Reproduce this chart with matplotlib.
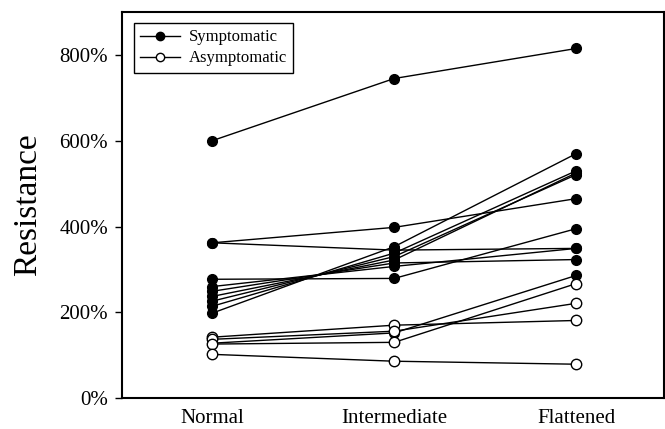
import matplotlib

matplotlib.use("Agg")
import matplotlib.pyplot as plt
from matplotlib.lines import Line2D

plt.rcParams.update({"font.family": ["Liberation Serif", "DejaVu Serif"]})

stages = ["Normal", "Intermediate", "Flattened"]

# resistance (%) per subject at each stage
symptomatic = [
    [600, 745, 815],
    [362, 398, 465],
    [362, 345, 349],
    [277, 279, 395],
    [260, 307, 349],
    [249, 315, 323],
    [237, 322, 525],
    [226, 330, 521],
    [214, 338, 530],
    [198, 353, 570],
    [128, 152, 286],
]
asymptomatic = [
    [142, 170, 181],
    [137, 156, 221],
    [126, 130, 267],
    [102, 86, 79],
]
yticks = [0, 200, 400, 600, 800]

fig = plt.figure(figsize=(6.65, 4.29), dpi=100)
ax = fig.add_axes([0.1835, 0.072, 0.8145, 0.9])

x = list(range(len(stages)))
for s in symptomatic:
    ax.plot(x, s, "-", color="black", lw=1.0, marker="o", ms=7,
            mfc="black", mec="black", zorder=2)
for s in asymptomatic:
    ax.plot(x, s, "-", color="black", lw=1.0, marker="o", ms=7.5,
            mfc="white", mec="black", mew=1.0, zorder=3)

ax.set_xlim(-0.495, 2.48)
ax.set_ylim(0, 900)
ax.set_xticks(x)
ax.set_xticklabels(stages, fontsize=15)
ax.set_yticks(yticks)
ax.set_yticklabels([f"{v}%" for v in yticks], fontsize=15)
ax.tick_params(axis="x", length=0, pad=8)
ax.tick_params(axis="y", length=5, width=1.0, direction="out", pad=5)
for sp in ax.spines.values():
    sp.set_linewidth(1.5)
ax.set_ylabel("Resistance", fontsize=24, labelpad=12)

handles = [
    Line2D([0], [0], color="black", lw=1.0, marker="o", ms=6, mfc="black", mec="black"),
    Line2D([0], [0], color="black", lw=1.0, marker="o", ms=6, mfc="white", mec="black"),
]
leg = ax.legend(handles, ["Symptomatic", "Asymptomatic"], loc="upper left",
                bbox_to_anchor=(0.012, 0.985), fontsize=12, fancybox=False,
                framealpha=1, edgecolor="black", handlelength=2.4,
                borderpad=0.4, labelspacing=0.3, handletextpad=0.5,
                borderaxespad=0.3)
leg.get_frame().set_linewidth(1.0)

fig.savefig("out.png", dpi=100)
